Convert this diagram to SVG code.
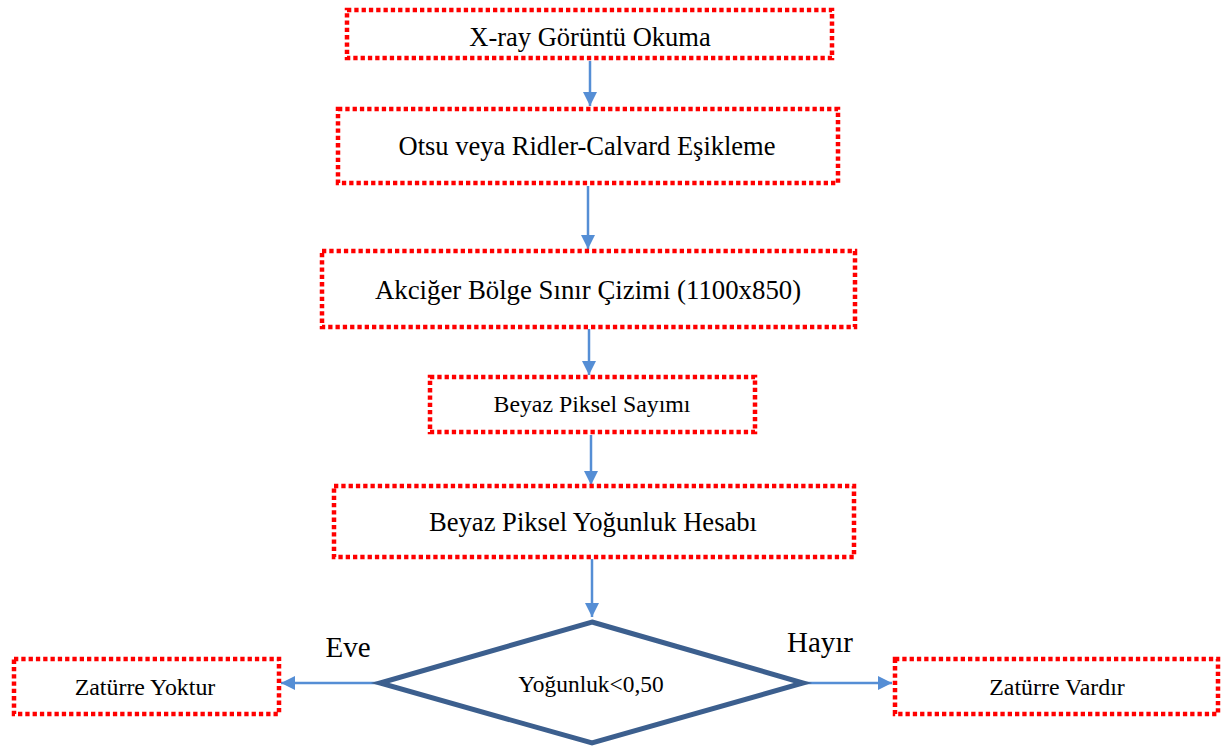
<svg xmlns="http://www.w3.org/2000/svg" width="1223" height="749" viewBox="0 0 1223 749">
<defs>
<style>
.box{fill:none;stroke:#FF0000;stroke-width:4.5;stroke-dasharray:4.3 3;}
.t{font-family:"Liberation Serif","Times New Roman",serif;fill:#000;text-anchor:middle;}
.conn{stroke:#558ED5;stroke-width:2.5;fill:none;marker-end:url(#ah);}
.dia{fill:#fff;stroke:#3C5F8E;stroke-width:5;stroke-linejoin:miter;}
</style>
<marker id="ah" viewBox="0 0 10 10" refX="10" refY="5" markerWidth="5.6" markerHeight="5.6" orient="auto" markerUnits="strokeWidth">
<path d="M0,0 L10,5 L0,10 Z" fill="#558ED5"/>
</marker>
</defs>
<rect width="1223" height="749" fill="#fff"/>
<g id="connectors">
<line class="conn" x1="590" y1="61" x2="590" y2="106"/>
<line class="conn" x1="588" y1="186" x2="588" y2="249"/>
<line class="conn" x1="589" y1="329" x2="589" y2="375"/>
<line class="conn" x1="591" y1="435" x2="591" y2="485"/>
<line class="conn" x1="592" y1="559" x2="592" y2="617"/>
<line class="conn" x1="378" y1="683" x2="281" y2="683"/>
<line class="conn" x1="804" y1="683" x2="892" y2="683"/>
</g>
<g id="n1"><rect class="box" x="347" y="10" width="485" height="48"/><text class="t" x="590" y="46" font-size="26.5">X-ray Görüntü Okuma</text></g>
<g id="n2"><rect class="box" x="338" y="109" width="500" height="74"/><text class="t" x="587" y="155" font-size="26.5">Otsu veya Ridler-Calvard Eşikleme</text></g>
<g id="n3"><rect class="box" x="322" y="251" width="533" height="76"/><text class="t" x="588" y="299" font-size="26.8">Akciğer Bölge Sınır Çizimi (1100x850)</text></g>
<g id="n4"><rect class="box" x="430" y="377" width="325" height="55"/><text class="t" x="592" y="412" font-size="23.8">Beyaz Piksel Sayımı</text></g>
<g id="n5"><rect class="box" x="334" y="486" width="520" height="71"/><text class="t" x="593" y="531" font-size="26.6">Beyaz Piksel Yoğunluk Hesabı</text></g>
<g id="n6"><polygon class="dia" points="592,622 803,683 592,743 380,683"/><text class="t" x="591" y="692" font-size="23.4">Yoğunluk&lt;0,50</text></g>
<g id="n7"><rect class="box" x="14" y="659" width="265" height="55"/><text class="t" x="145" y="695" font-size="23.9">Zatürre Yoktur</text></g>
<g id="n8"><rect class="box" x="895" y="659" width="323" height="55"/><text class="t" x="1057" y="695" font-size="23.9">Zatürre Vardır</text></g>
<g id="labels">
<text class="t" x="348" y="657" font-size="29">Eve</text>
<text class="t" x="820" y="652" font-size="29">Hayır</text>
</g>
</svg>
